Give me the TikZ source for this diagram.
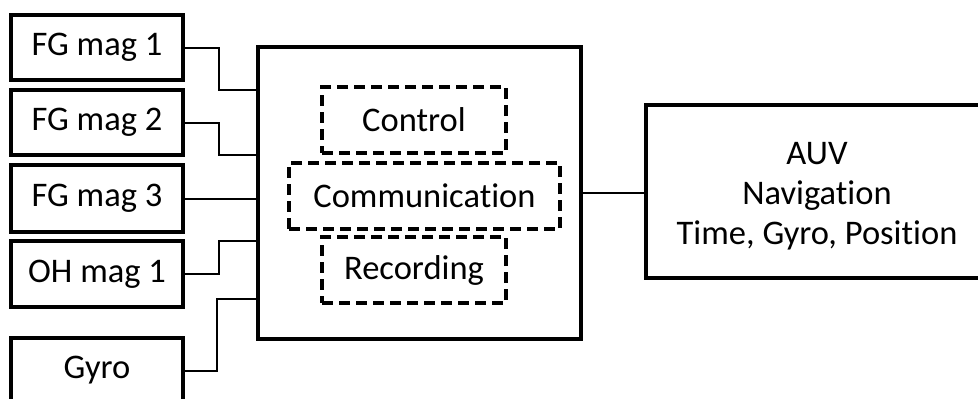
\documentclass[tikz,border=0pt]{standalone}
\usepackage{fontspec}
\setmainfont[Ligatures={NoCommon}]{Carlito}
\begin{document}
\begin{tikzpicture}[x=1pt,y=-1pt,
  every node/.style={font=\fontsize{34.5}{40}\selectfont, align=center, inner sep=0pt, outer sep=0pt},
  solidbox/.style={draw, line width=3.3pt},
  dashbox/.style={draw, line width=3.3pt, dash pattern=on 11pt off 6pt, minimum width=184pt, minimum height=66pt},
  sensor/.style={solidbox, minimum width=172pt, minimum height=65pt},
  wire/.style={line width=2pt}]
\useasboundingbox (0,0) rectangle (978,399);
\node[sensor] (fg1) at (97,47.5) {FG mag 1};
\node[sensor] (fg2) at (97,122.5) {FG mag 2};
\node[sensor, minimum height=67pt] (fg3) at (97,198.5) {FG mag 3};
\node[sensor, minimum height=66pt] (oh1) at (97,274) {OH mag 1};
\node[minimum width=172pt, minimum height=65pt] (gyro) at (97,370.5) {Gyro};
\draw[line width=3.3pt, line join=miter] (gyro.south west |- 0,399) -- (gyro.north west) -- (gyro.north east) -- (gyro.south east |- 0,399);
\node[solidbox, minimum width=323pt, minimum height=292pt] (main) at (419.5,193) {};
\node[dashbox] (ctrl) at (414,120) {Control};
\node[dashbox, minimum width=271pt] (comm) at (424.5,196) {Communication};
\node[dashbox] (rec) at (414,270) {Recording};
\node[minimum width=332pt, minimum height=173pt] (auv) at (812,191.5) {};
\draw[line width=3.3pt, line join=miter] (auv.north east) -- (auv.north west) -- (auv.south west) -- (auv.south east);
\node (auvtext) at (817,196) {AUV\\Navigation\\Time, Gyro, Position};
\draw[wire] (fg1.east) -- ++(36,0) |- ([yshift=-43pt]main.north west);
\draw[wire] (fg2.east) -- ++(36,0) |- ([yshift=-108pt]main.north west);
\draw[wire] (fg3.east) -- (fg3.east -| main.west);
\draw[wire] (oh1.east) -- ++(36,0) |- ([yshift=-194pt]main.north west);
\draw[wire] (gyro.east) -- ++(34,0) |- ([yshift=-252pt]main.north west);
\draw[wire] (main.east) -- (main.east -| auv.west);
\end{tikzpicture}
\end{document}
